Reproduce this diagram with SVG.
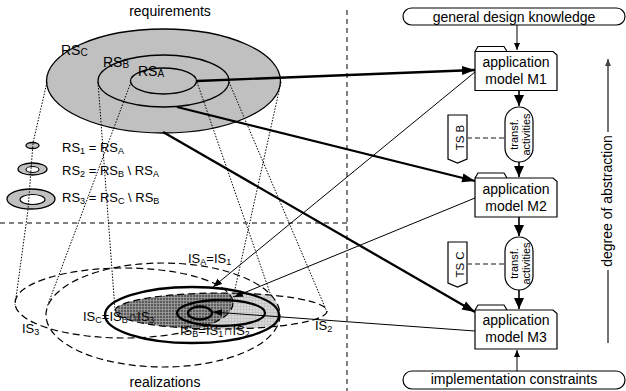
<svg xmlns="http://www.w3.org/2000/svg" width="626" height="391" viewBox="0 0 626 391">
<style>
text { font-family: "Liberation Sans", Arial, sans-serif; fill: #000; }
.t14 { font-size: 14px; }
.t13 { font-size: 13px; }
.mid { text-anchor: middle; }
.rs { fill: #c0c0c0; stroke: #000; stroke-width: 1.3; }
.hole { fill: #fff; stroke: #000; stroke-width: 1.1; }
.dot { fill: none; stroke: #000; stroke-width: 1; stroke-dasharray: 1.5 1.5; }
.dash { fill: none; stroke: #000; stroke-width: 1.2; stroke-dasharray: 7 4; }
.sep { fill: none; stroke: #000; stroke-width: 1; stroke-dasharray: 5 4; }
.solid { fill: none; stroke: #000; stroke-width: 2.3; }
.thick { fill: none; stroke: #000; stroke-width: 2.3; marker-end: url(#ah-big); }
.thin { fill: none; stroke: #000; stroke-width: 1; marker-end: url(#ah-small); }
.flow { fill: none; stroke: #000; stroke-width: 1.6; marker-end: url(#ah-mid); }
.feed { fill: none; stroke: #000; stroke-width: 1; marker-end: url(#ah-feed); }
.node { fill: #fff; stroke: #000; stroke-width: 1.2; }
.link { fill: none; stroke: #666; stroke-width: 1.5; stroke-dasharray: 5 3; }
.axis { fill: none; stroke: #444; stroke-width: 1.5; }
</style>
<defs>
  <marker id="ah-big" markerWidth="14" markerHeight="10" refX="13" refY="5" orient="auto" markerUnits="userSpaceOnUse">
    <path d="M0,0.5 L13,5 L0,9.5 Z" fill="#000"/>
  </marker>
  <marker id="ah-mid" markerWidth="12" markerHeight="11" refX="11" refY="5.5" orient="auto" markerUnits="userSpaceOnUse">
    <path d="M0,0.5 L11,5.5 L0,10.5 Z" fill="#000"/>
  </marker>
  <marker id="ah-small" markerWidth="10" markerHeight="8" refX="9" refY="3.5" orient="auto" markerUnits="userSpaceOnUse">
    <path d="M0,0 L9,3.5 L0,7 Z" fill="#000"/>
  </marker>
  <marker id="ah-feed" markerWidth="8" markerHeight="7" refX="7" refY="3" orient="auto" markerUnits="userSpaceOnUse">
    <path d="M0,0 L7,3 L0,6 Z" fill="#000"/>
  </marker>
  <marker id="ah-axis" markerWidth="8" markerHeight="7" refX="7" refY="3" orient="auto" markerUnits="userSpaceOnUse">
    <path d="M0,0 L7,3 L0,6 Z" fill="#444"/>
  </marker>
  <pattern id="dark" width="3" height="3" patternUnits="userSpaceOnUse">
    <rect width="3" height="3" fill="#5c5c5c"/>
    <path d="M0,0.5H3M0.5,0V3" stroke="#a0a0a0" stroke-width="0.8"/>
  </pattern>
  <pattern id="light" width="3" height="3" patternUnits="userSpaceOnUse">
    <rect width="3" height="3" fill="#d8d8d8"/>
    <path d="M0,0.5H3M0.5,0V3" stroke="#c2c2c2" stroke-width="0.8"/>
  </pattern>
  <clipPath id="clip-is1"><ellipse cx="163" cy="315" rx="117" ry="52"/></clipPath>
  <clipPath id="clip-is3"><ellipse cx="124" cy="303" rx="109" ry="35"/></clipPath>
</defs>

<!-- separators -->
<path class="sep" d="M347,10 V391"/>
<path class="sep" d="M0,223 H347"/>

<!-- requirement sets -->
<g id="requirements">
  <text class="t14 mid" x="170" y="15.5">requirements</text>
  <ellipse class="rs" cx="163.5" cy="81" rx="117" ry="52"/>
  <ellipse class="rs" cx="163.5" cy="81" rx="65.5" ry="26"/>
  <ellipse class="rs" cx="163.5" cy="81" rx="33" ry="13"/>
  <text class="t14" x="61" y="54.5">RS<tspan font-size="10" dy="1.5">C</tspan></text>
  <text class="t14" x="103" y="66.5">RS<tspan font-size="10" dy="1.5">B</tspan></text>
  <text class="t14" x="138" y="75.5">RS<tspan font-size="10" dy="1.5">A</tspan></text>
</g>

<g id="partition">
  <ellipse class="rs" cx="32.5" cy="145.5" rx="6.5" ry="3"/>
  <ellipse class="rs" cx="32.5" cy="169" rx="14.5" ry="6"/>
  <ellipse class="hole" cx="32.5" cy="169.5" rx="6.5" ry="3"/>
  <ellipse class="rs" cx="31" cy="199" rx="24" ry="10"/>
  <ellipse class="hole" cx="32.5" cy="199.5" rx="12.5" ry="5"/>
  <text class="t13" x="62" y="152">RS<tspan font-size="9" dy="2">1</tspan><tspan dy="-2"> = RS</tspan><tspan font-size="9" dy="2">A</tspan></text>
  <text class="t13" x="62" y="174.5">RS<tspan font-size="9" dy="2">2</tspan><tspan dy="-2"> = RS</tspan><tspan font-size="9" dy="2">B</tspan><tspan dy="-2"> \ RS</tspan><tspan font-size="9" dy="2">A</tspan></text>
  <text class="t13" x="62" y="201.5">RS<tspan font-size="9" dy="2">3</tspan><tspan dy="-2"> = RS</tspan><tspan font-size="9" dy="2">C</tspan><tspan dy="-2"> \ RS</tspan><tspan font-size="9" dy="2">B</tspan></text>
</g>

<!-- realization sets -->
<g id="realizations">
  <ellipse cx="221" cy="311" rx="106" ry="18" fill="url(#light)" clip-path="url(#clip-is1)"/>
  <g clip-path="url(#clip-is1)">
    <ellipse cx="221" cy="311" rx="106" ry="18" fill="url(#dark)" clip-path="url(#clip-is3)"/>
  </g>
  <ellipse class="dash" cx="163" cy="315" rx="117" ry="52"/>
  <ellipse class="dash" cx="221" cy="311" rx="106" ry="18"/>
  <ellipse class="dash" cx="124" cy="303" rx="109" ry="35"/>
  <ellipse class="solid" cx="192" cy="315" rx="87" ry="28"/>
  <ellipse class="solid" cx="221" cy="313" rx="44" ry="13"/>
  <ellipse class="solid" cx="200" cy="313" rx="12" ry="6.5"/>
  <text class="t13" x="188" y="263">IS<tspan font-size="9" dy="2">A</tspan><tspan dy="-2">=IS</tspan><tspan font-size="9" dy="2">1</tspan></text>
  <text class="t13" x="83" y="321">IS<tspan font-size="9" dy="2">C</tspan><tspan dy="-2">=IS</tspan><tspan font-size="9" dy="2">B</tspan><tspan dy="-2">∩IS</tspan><tspan font-size="9" dy="2">3</tspan></text>
  <text class="t13" x="180" y="335">IS<tspan font-size="9" dy="2">B</tspan><tspan dy="-2">=IS</tspan><tspan font-size="9" dy="2">1</tspan><tspan dy="-2">∩IS</tspan><tspan font-size="9" dy="2">2</tspan></text>
  <text class="t13" x="22" y="333">IS<tspan font-size="9" dy="2">3</tspan></text>
  <text class="t13" x="315" y="330">IS<tspan font-size="9" dy="2">2</tspan></text>
  <text class="t14 mid" x="165" y="386.5">realizations</text>
</g>

<!-- design process -->
<g id="knowledge">
  <rect class="node" x="403" y="8" width="222" height="17" rx="8.5"/>
  <text class="t14 mid" x="514" y="21.5">general design knowledge</text>
</g>
<g id="m1">
  <path class="node" d="M475,51.5 L478,46.5 L504,46.5 L507,51.5 L553,51.5 L557,55 L557,90.5 L475,90.5 Z M475,51.5 H507"/>
  <text class="t14 mid" x="516" y="67">application</text>
  <text class="t14 mid" x="516" y="83.5">model M1</text>
</g>
<g id="transf-b">
  <rect class="node" x="505" y="107" width="28" height="55" rx="14"/>
  <text class="mid" font-size="11" transform="translate(518,134.5) rotate(-90)">transf.</text>
  <text class="mid" font-size="11" transform="translate(529.5,134.5) rotate(-90)">activities</text>
</g>
<g id="ts-b">
  <path class="node" d="M448,115 H467 V159 L457.5,163 L448,159 Z"/>
  <text class="mid" font-size="11.5" transform="translate(463.5,137.5) rotate(-90)">TS B</text>
</g>
<g id="m2">
  <path class="node" d="M475,178 L478,173 L504,173 L507,178 L553,178 L557,181.5 L557,217 L475,217 Z M475,178 H507"/>
  <text class="t14 mid" x="516" y="194">application</text>
  <text class="t14 mid" x="516" y="211">model M2</text>
</g>
<g id="transf-c">
  <rect class="node" x="505" y="237" width="28" height="53" rx="14"/>
  <text class="mid" font-size="11" transform="translate(518,263.5) rotate(-90)">transf.</text>
  <text class="mid" font-size="11" transform="translate(529.5,263.5) rotate(-90)">activities</text>
</g>
<g id="ts-c">
  <path class="node" d="M448,242 H467 V283 L457.5,287 L448,283 Z"/>
  <text class="mid" font-size="11.5" transform="translate(463.5,264.5) rotate(-90)">TS C</text>
</g>
<g id="m3">
  <path class="node" d="M475,310 L478,305 L504,305 L507,310 L553,310 L557,313.5 L557,349 L475,349 Z M475,310 H507"/>
  <text class="t14 mid" x="516" y="325">application</text>
  <text class="t14 mid" x="516" y="342">model M3</text>
</g>
<g id="constraints">
  <rect class="node" x="403" y="371" width="222" height="18" rx="9"/>
  <text class="t14 mid" x="514" y="384">implementation constraints</text>
</g>
<g id="abstraction">
  <path class="axis" d="M608,132 V59" marker-end="url(#ah-axis)"/>
  <path class="axis" d="M608,270 V343"/>
  <text class="t14 mid" transform="translate(612,201) rotate(-90)">degree of abstraction</text>
</g>

<!-- connectors -->
<g id="connectors">
  <polyline class="dot" points="47,82 33,143 28,210 15,305"/>
  <path class="dot" d="M131,82 L47,307"/>
  <path class="dot" d="M98,82 L115,310"/>
  <path class="dot" d="M197,82 L270,293"/>
  <path class="dot" d="M229,82 L327,312"/>
  <path class="dot" d="M281,82 L233,298"/>

  <path class="thick" d="M197,81 L475,70"/>
  <path class="thick" d="M177,107 L475,181"/>
  <path class="thick" d="M163,132 L475,312"/>

  <path class="thin" d="M475,72 L213,287"/>
  <path class="thin" d="M475,198 L234,297"/>
  <path class="thin" d="M475,331 L213,312"/>

  <path class="feed" d="M517,25 V50"/>
  <path class="feed" d="M517,371 V350"/>
  <path class="flow" d="M519,90.5 V106"/>
  <path class="flow" d="M519,162 V177"/>
  <path class="flow" d="M519,217 V236"/>
  <path class="flow" d="M519,290 V309"/>
  <path class="link" d="M467,138 H505"/>
  <path class="link" d="M467,264 H505"/>
</g>
</svg>
